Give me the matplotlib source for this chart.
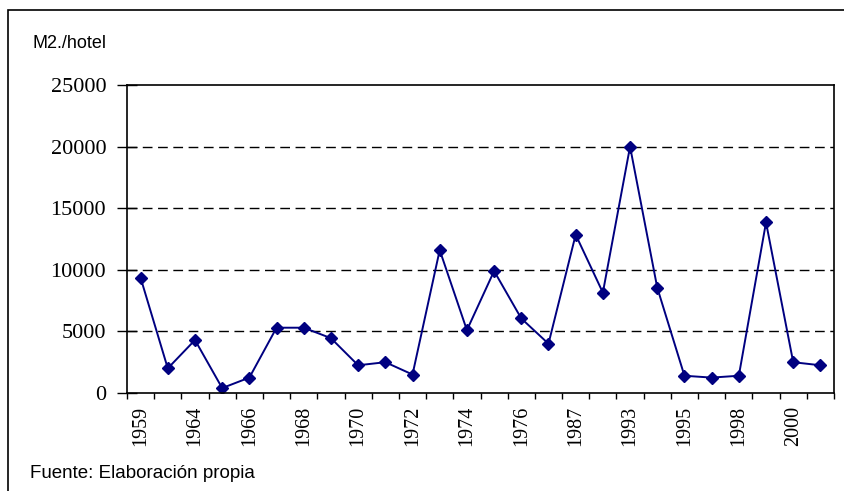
import numpy as np
import matplotlib.pyplot as plt
from matplotlib.patches import Rectangle

# Datos (m2 por hotel)
anios = ['1959', '1963', '1964', '1965', '1966', '1967', '1968', '1969', '1970',
         '1971', '1972', '1973', '1974', '1975', '1976', '1977', '1987', '1990',
         '1993', '1994', '1995', '1997', '1998', '1999', '2000', '2001']
m2_hotel = [9350, 2000, 4300, 400, 1250, 5300, 5300, 4450, 2250, 2500, 1500,
            11600, 5100, 9900, 6050, 4000, 12850, 8150, 20000, 8550, 1400,
            1250, 1400, 13850, 2500, 2250]
y_ticks = [0, 5000, 10000, 15000, 20000, 25000]

W, H = 845, 491
fig = plt.figure(figsize=(W / 100, H / 100), dpi=100)

# Marco exterior
fig.patches.append(Rectangle((8 / W, -0.1), 1.1, 1 - 10 / H + 0.1,
                             transform=fig.transFigure, fill=False,
                             ec='black', lw=1.2))

ax = fig.add_axes([127 / W, 1 - 393 / H, (834 - 127) / W, (393 - 85) / H])

x = np.arange(len(m2_hotel))
ax.plot(x, m2_hotel, color='#000080', lw=1.4, marker='D', markersize=6.5,
        markerfacecolor='#000080', markeredgecolor='#000080')

ax.set_xlim(-0.5, len(m2_hotel) - 0.5)
ax.set_ylim(0, 25000)

# Cuadrícula discontinua
for v in y_ticks[1:-1]:
    ax.axhline(v, color='black', lw=1, ls=(0, (7, 4)), zorder=0)

ax.set_yticks(y_ticks)
ax.set_yticklabels([str(v) for v in y_ticks], fontfamily='Liberation Serif',
                   fontsize=16)
ax.tick_params(axis='y', direction='inout', length=14, width=1, pad=8)

# Marcas en los límites de categoría, etiquetas cada dos
ax.set_xticks(np.arange(-0.5, len(m2_hotel), 1))
ax.set_xticklabels([])
ax.tick_params(axis='x', which='major', direction='out', length=4, width=1)
ax.set_xticks(x[::2], minor=True)
ax.set_xticklabels(anios[::2], minor=True, rotation=90,
                   fontfamily='Liberation Serif', fontsize=14.5)
ax.tick_params(axis='x', which='minor', length=0, pad=9)

for s in ax.spines.values():
    s.set_linewidth(1.2)

fig.text(33 / W, 1 - 43 / H, 'M2./hotel', fontfamily='Liberation Sans',
         fontsize=13, va='center')
fig.text(30 / W, 1 - 474 / H, 'Fuente: Elaboración propia',
         fontfamily='Liberation Sans', fontsize=13.5, va='center')

fig.savefig('out.png', dpi=100)
